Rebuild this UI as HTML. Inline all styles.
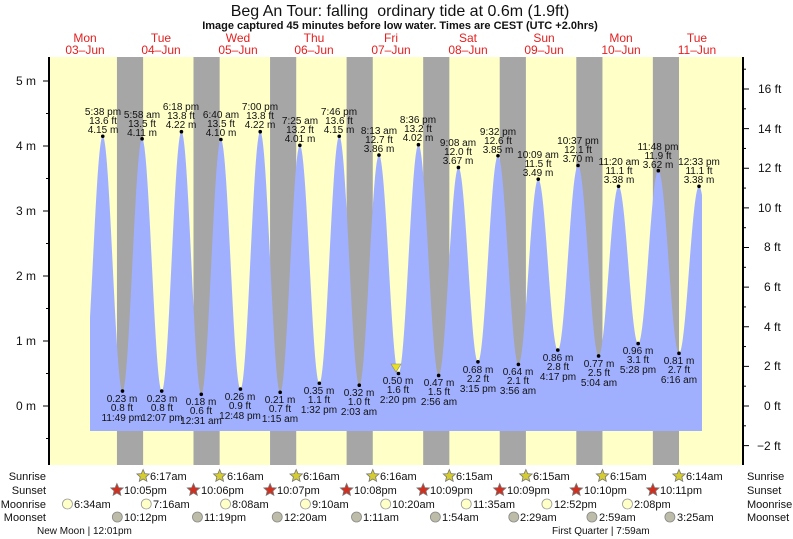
<!DOCTYPE html>
<html><head><meta charset="utf-8"><style>
html,body{margin:0;padding:0;background:#fff}
svg{display:block;font-family:"Liberation Sans",sans-serif}
.l{font-size:10px;fill:#111;text-anchor:middle}
.r{font-size:11px;fill:#111}
</style></head><body>
<svg id="s" width="793" height="539" viewBox="0 0 793 539" xmlns="http://www.w3.org/2000/svg">
<rect x="49" y="57" width="694" height="408" fill="#ffffc8"/>
<g id="bands" fill="#a6a6a6"></g>
<path id="tide" fill="#a0b0ff" d=""/>
<g id="ticks" stroke="#000" stroke-width="1"></g>
<line x1="49" y1="57" x2="49" y2="465" stroke="#000" stroke-width="2"/>
<line x1="743" y1="57" x2="743" y2="465" stroke="#000" stroke-width="2"/>
<text x="400" y="16" font-size="16" text-anchor="middle" fill="#111" xml:space="preserve" style="white-space:pre">Beg An Tour: falling  ordinary tide at 0.6m (1.9ft)</text>
<text x="400" y="29" font-size="11" font-weight="bold" text-anchor="middle" fill="#111">Image captured 45 minutes before low water. Times are CEST (UTC +2.0hrs)</text>
<g font-size="12" fill="#e52020" text-anchor="middle">
<text x="85" y="42">Mon</text><text x="85" y="54">03–Jun</text>
<text x="161" y="42">Tue</text><text x="161" y="54">04–Jun</text>
<text x="238" y="42">Wed</text><text x="238" y="54">05–Jun</text>
<text x="314" y="42">Thu</text><text x="314" y="54">06–Jun</text>
<text x="391" y="42">Fri</text><text x="391" y="54">07–Jun</text>
<text x="468" y="42">Sat</text><text x="468" y="54">08–Jun</text>
<text x="544" y="42">Sun</text><text x="544" y="54">09–Jun</text>
<text x="621" y="42">Mon</text><text x="621" y="54">10–Jun</text>
<text x="697" y="42">Tue</text><text x="697" y="54">11–Jun</text>
</g>
<g font-size="12" fill="#111" text-anchor="end">
<text x="36" y="85">5 m</text><text x="36" y="150">4 m</text><text x="36" y="215">3 m</text>
<text x="36" y="280">2 m</text><text x="36" y="345">1 m</text><text x="36" y="410">0 m</text>
</g>
<g font-size="12" fill="#111">
<text x="758" y="93">16 ft</text><text x="758" y="133">14 ft</text><text x="758" y="172">12 ft</text>
<text x="758" y="212">10 ft</text><text x="764" y="251">8 ft</text><text x="764" y="291">6 ft</text>
<text x="764" y="331">4 ft</text><text x="764" y="370">2 ft</text><text x="764" y="410">0 ft</text>
<text x="757" y="450">−2 ft</text>
</g>
<g id="dots" fill="#000"></g>
<polygon points="391,364 401,364 396,372" fill="#e8e020" stroke="#888" stroke-width="0.6"/>
<g class="l">
<text x="103" y="115">5:38 pm</text><text x="103" y="124">13.6 ft</text><text x="103" y="133">4.15 m</text>
<text x="142" y="118">5:58 am</text><text x="142" y="127">13.5 ft</text><text x="142" y="136">4.11 m</text>
<text x="181" y="110">6:18 pm</text><text x="181" y="119">13.8 ft</text><text x="181" y="128">4.22 m</text>
<text x="221" y="118">6:40 am</text><text x="221" y="127">13.5 ft</text><text x="221" y="136">4.10 m</text>
<text x="260" y="110">7:00 pm</text><text x="260" y="119">13.8 ft</text><text x="260" y="128">4.22 m</text>
<text x="300" y="124">7:25 am</text><text x="300" y="133">13.2 ft</text><text x="300" y="142">4.01 m</text>
<text x="339" y="115">7:46 pm</text><text x="339" y="124">13.6 ft</text><text x="339" y="133">4.15 m</text>
<text x="379" y="134">8:13 am</text><text x="379" y="143">12.7 ft</text><text x="379" y="152">3.86 m</text>
<text x="418" y="123">8:36 pm</text><text x="418" y="132">13.2 ft</text><text x="418" y="141">4.02 m</text>
<text x="458" y="146">9:08 am</text><text x="458" y="155">12.0 ft</text><text x="458" y="164">3.67 m</text>
<text x="498" y="135">9:32 pm</text><text x="498" y="144">12.6 ft</text><text x="498" y="153">3.85 m</text>
<text x="538" y="158">10:09 am</text><text x="538" y="167">11.5 ft</text><text x="538" y="176">3.49 m</text>
<text x="578" y="144">10:37 pm</text><text x="578" y="153">12.1 ft</text><text x="578" y="162">3.70 m</text>
<text x="619" y="165">11:20 am</text><text x="619" y="174">11.1 ft</text><text x="619" y="183">3.38 m</text>
<text x="658" y="150">11:48 pm</text><text x="658" y="159">11.9 ft</text><text x="658" y="168">3.62 m</text>
<text x="699" y="165">12:33 pm</text><text x="699" y="174">11.1 ft</text><text x="699" y="183">3.38 m</text>

<text x="122" y="402">0.23 m</text><text x="122" y="411">0.8 ft</text><text x="122" y="421">11:49 pm</text>
<text x="162" y="402">0.23 m</text><text x="162" y="411">0.8 ft</text><text x="162" y="421">12:07 pm</text>
<text x="201" y="405">0.18 m</text><text x="201" y="414">0.6 ft</text><text x="201" y="424">12:31 am</text>
<text x="240" y="400">0.26 m</text><text x="240" y="409">0.9 ft</text><text x="240" y="419">12:48 pm</text>
<text x="280" y="403">0.21 m</text><text x="280" y="412">0.7 ft</text><text x="280" y="422">1:15 am</text>
<text x="319" y="394">0.35 m</text><text x="319" y="403">1.1 ft</text><text x="319" y="413">1:32 pm</text>
<text x="359" y="396">0.32 m</text><text x="359" y="405">1.0 ft</text><text x="359" y="415">2:03 am</text>
<text x="398" y="384">0.50 m</text><text x="398" y="393">1.6 ft</text><text x="398" y="403">2:20 pm</text>
<text x="439" y="386">0.47 m</text><text x="439" y="395">1.5 ft</text><text x="439" y="405">2:56 am</text>
<text x="478" y="373">0.68 m</text><text x="478" y="382">2.2 ft</text><text x="478" y="392">3:15 pm</text>
<text x="518" y="375">0.64 m</text><text x="518" y="384">2.1 ft</text><text x="518" y="394">3:56 am</text>
<text x="558" y="361">0.86 m</text><text x="558" y="370">2.8 ft</text><text x="558" y="380">4:17 pm</text>
<text x="599" y="367">0.77 m</text><text x="599" y="376">2.5 ft</text><text x="599" y="386">5:04 am</text>
<text x="638" y="354">0.96 m</text><text x="638" y="363">3.1 ft</text><text x="638" y="373">5:28 pm</text>
<text x="679" y="364">0.81 m</text><text x="679" y="373">2.7 ft</text><text x="679" y="383">6:16 am</text>
</g>
<g class="r" text-anchor="end">
<text x="46" y="480">Sunrise</text><text x="46" y="494">Sunset</text>
<text x="46" y="508">Moonrise</text><text x="46" y="521">Moonset</text>
</g>
<g class="r">
<text x="747" y="480">Sunrise</text><text x="747" y="494">Sunset</text>
<text x="747" y="508">Moonrise</text><text x="747" y="521">Moonset</text>
</g>
<g id="icons"></g>
<g class="r">
<text x="150" y="480">6:17am</text><text x="227" y="480">6:16am</text><text x="303" y="480">6:16am</text><text x="380" y="480">6:16am</text>
<text x="456" y="480">6:15am</text><text x="533" y="480">6:15am</text><text x="610" y="480">6:15am</text><text x="686" y="480">6:14am</text>
<text x="124" y="494">10:05pm</text><text x="201" y="494">10:06pm</text><text x="277" y="494">10:07pm</text><text x="354" y="494">10:08pm</text>
<text x="430" y="494">10:09pm</text><text x="507" y="494">10:09pm</text><text x="584" y="494">10:10pm</text><text x="660" y="494">10:11pm</text>
<text x="74" y="508">6:34am</text><text x="153" y="508">7:16am</text><text x="232" y="508">8:08am</text><text x="312" y="508">9:10am</text>
<text x="392" y="508">10:20am</text><text x="473" y="508">11:35am</text><text x="554" y="508">12:52pm</text><text x="634" y="508">2:08pm</text>
<text x="124" y="521">10:12pm</text><text x="204" y="521">11:19pm</text><text x="284" y="521">12:20am</text><text x="363" y="521">1:11am</text>
<text x="442" y="521">1:54am</text><text x="520" y="521">2:29am</text><text x="599" y="521">2:59am</text><text x="677" y="521">3:25am</text>
</g>
<g font-size="10" fill="#111">
<text x="37" y="534">New Moon | 12:01pm</text>
<text x="552" y="534">First Quarter | 7:59am</text>
</g>
</svg>
<script>
(function(){
var NS="http://www.w3.org/2000/svg";
function el(p,t,a){var e=document.createElementNS(NS,t);for(var k in a)e.setAttribute(k,a[k]);p.appendChild(e);return e;}
var X=function(h){return 46.5+h*3.19;}, Y=function(m){return 406-65*m;};
var b=document.getElementById('bands');
for(var d=0;d<8;d++){var x1=X(22.08+24*d),x2=X(30.28+24*d);el(b,'rect',{x:x1,y:57,width:x2-x1,height:408});}
var ex=[[11.4,0.25],[17.63,4.15],[23.82,0.23],[29.97,4.11],[36.12,0.23],[42.3,4.22],[48.52,0.18],[54.67,4.10],[60.8,0.26],[67,4.22],[73.25,0.21],[79.42,4.01],[85.53,0.35],[91.77,4.15],[98.05,0.32],[104.22,3.86],[110.33,0.50],[116.6,4.02],[122.93,0.47],[129.13,3.67],[135.25,0.68],[141.53,3.85],[147.93,0.64],[154.15,3.49],[160.28,0.86],[166.62,3.70],[173.07,0.77],[179.33,3.38],[185.47,0.96],[191.8,3.62],[198.27,0.81],[204.55,3.38],[210.8,0.9]];
var x0=90,x1=702,d="M"+x0+",431";
for(var x=x0;x<=x1;x+=0.5){var h=(x-46.5)/3.19,i=0;while(ex[i+1][0]<h)i++;var a=ex[i],c=ex[i+1];var f=(h-a[0])/(c[0]-a[0]);var m=a[1]+(c[1]-a[1])*(1-Math.cos(Math.PI*f))/2;d+=" L"+x.toFixed(1)+","+Y(m).toFixed(1);}
d+=" L"+x1+",431 Z";document.getElementById('tide').setAttribute('d',d);
var dots=document.getElementById('dots');
for(var j=1;j<ex.length-1;j++)el(dots,'circle',{cx:X(ex[j][0]),cy:Y(ex[j][1]),r:1.8});
var t=document.getElementById('ticks');
for(var m=-0.5;m<=5.3;m+=0.5){var y=Y(m);var maj=Math.abs(m-Math.round(m))<0.01;el(t,'line',{x1:maj?43:46,y1:y,x2:49,y2:y});}
for(var ft=-3;ft<=17;ft++){var y=406-65*ft*0.3048;if(y<57||y>465)continue;el(t,'line',{x1:743,y1:y,x2:(ft%2==0)?749:746,y2:y});}
function star(p,cx,cy,fill,stroke){var pts=[];for(var k=0;k<10;k++){var r=k%2?3:6.5,a=-Math.PI/2+k*Math.PI/5;pts.push((cx+r*Math.cos(a)).toFixed(1)+","+(cy+r*Math.sin(a)).toFixed(1));}el(p,'polygon',{points:pts.join(" "),fill:fill,stroke:stroke,'stroke-width':0.8});}
var ic=document.getElementById('icons');
for(var d2=0;d2<8;d2++){star(ic,X(30.28+24*d2),476,'#d4cc30','#777');star(ic,X(22.08+24*d2),490,'#d03020','#777');}
[6.57,31.27,56.13,81.17,106.33,131.58,156.87,182.13].forEach(function(h){el(ic,'circle',{cx:X(h),cy:504,r:5,fill:'#ffffc8',stroke:'#999','stroke-width':0.8});});
[22.2,47.32,72.33,97.18,121.9,146.48,170.98,195.42].forEach(function(h){el(ic,'circle',{cx:X(h),cy:517,r:5,fill:'#bcbca8',stroke:'#888','stroke-width':0.8});});
})();
</script>
</body></html>
